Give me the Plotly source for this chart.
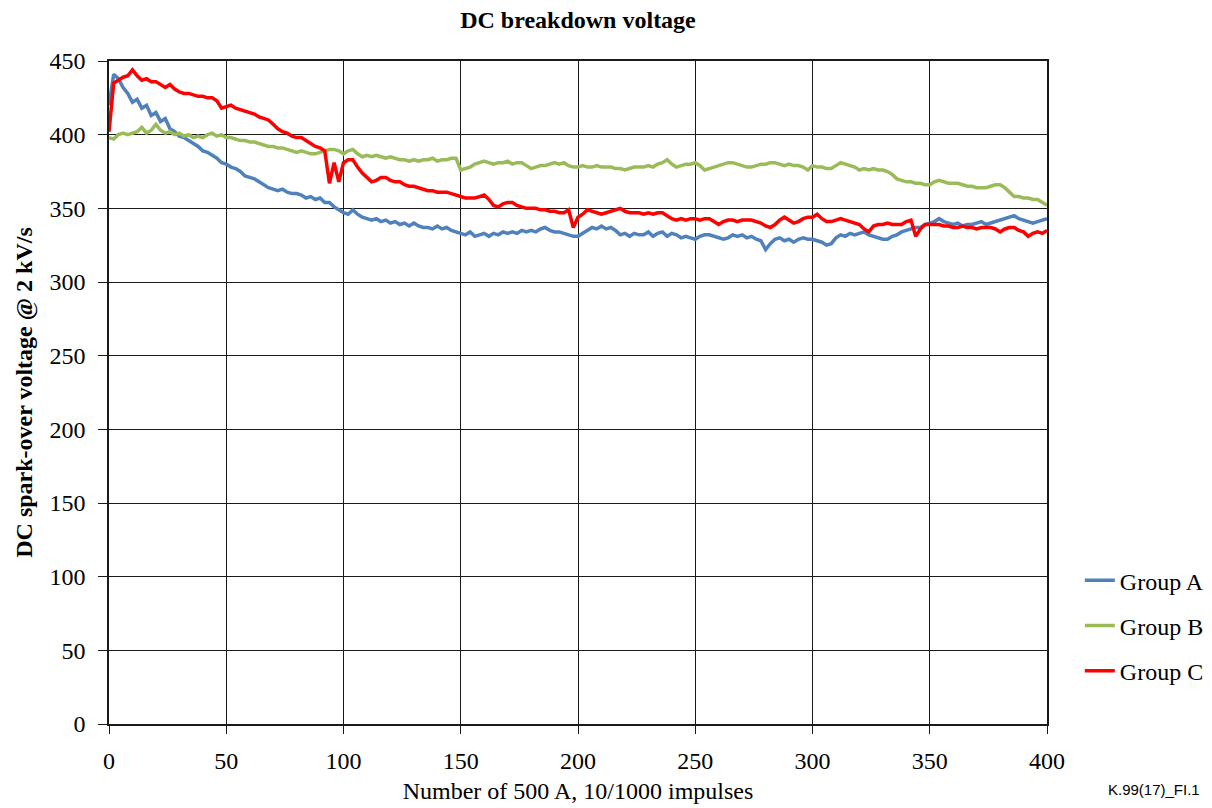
import plotly.graph_objects as go

impulses = list(range(0, 401, 2))

group_a = [420, 441, 438, 432, 428, 422, 424, 418, 420, 413,
           415, 409, 411, 404, 402, 399, 398, 396, 394, 392,
           389, 388, 386, 384, 381, 380, 378, 377, 375, 372,
           371, 370, 368, 366, 364, 363, 362, 363, 361, 360,
           360, 359, 357, 358, 356, 357, 354, 354, 351, 349,
           347, 346, 349, 346, 344, 343, 342, 343, 341, 342,
           340, 341, 339, 340, 338, 340, 338, 337, 337, 336,
           338, 336, 337, 335, 334, 333, 332, 334, 331, 332,
           333, 331, 333, 332, 334, 333, 334, 333, 335, 334,
           335, 334, 336, 337, 335, 334, 334, 333, 332, 331,
           331, 333, 335, 337, 336, 338, 336, 337, 335, 332,
           333, 331, 333, 332, 332, 334, 331, 333, 334, 331,
           333, 332, 330, 331, 330, 329, 331, 332, 332, 331,
           330, 329, 330, 332, 331, 332, 330, 331, 329, 328,
           322, 326, 329, 330, 328, 329, 327, 329, 330, 329,
           329, 328, 327, 325, 326, 330, 332, 331, 333, 332,
           333, 334, 332, 331, 330, 329, 329, 331, 332, 334,
           335, 336, 337, 337, 339, 340, 341, 343, 341, 340,
           339, 340, 338, 339, 339, 340, 341, 339, 340, 341,
           342, 343, 344, 345, 343, 342, 341, 340, 341, 342,
           343]

group_b = [398, 397, 400, 401, 400, 401, 402, 405, 401, 403,
           407, 403, 401, 402, 400, 401, 399, 400, 398, 399,
           398, 400, 401, 399, 400, 398, 398, 397, 396, 396,
           395, 395, 394, 393, 392, 392, 391, 391, 390, 389,
           388, 389, 388, 387, 387, 388, 389, 390, 390, 389,
           387, 389, 390, 387, 385, 386, 385, 386, 385, 384,
           385, 384, 383, 383, 382, 383, 382, 383, 383, 384,
           382, 383, 383, 384, 384, 376, 377, 378, 380, 381,
           382, 381, 380, 381, 381, 382, 380, 381, 381, 379,
           377, 378, 379, 379, 380, 381, 380, 381, 379, 378,
           378, 379, 378, 378, 379, 378, 378, 378, 377, 377,
           376, 377, 378, 378, 378, 379, 378, 380, 381, 383,
           380, 378, 379, 380, 380, 381, 379, 376, 377, 378,
           379, 380, 381, 381, 380, 379, 378, 378, 379, 380,
           380, 381, 381, 380, 379, 380, 379, 379, 378, 376,
           379, 378, 378, 377, 377, 379, 381, 380, 379, 378,
           376, 377, 376, 377, 376, 376, 375, 373, 370, 369,
           368, 368, 367, 367, 366, 366, 368, 369, 368, 367,
           367, 367, 366, 365, 365, 364, 364, 364, 365, 366,
           366, 364, 361, 358, 358, 357, 357, 356, 356, 354,
           352]

group_c = [402, 435, 437, 439, 440, 444, 440, 437, 438, 436,
           436, 434, 432, 434, 431, 429, 428, 428, 427, 426,
           426, 425, 425, 423, 418, 419, 420, 418, 417, 416,
           415, 414, 412, 411, 410, 407, 404, 402, 401, 399,
           398, 398, 396, 394, 392, 391, 389, 367, 381, 368,
           381, 383, 383, 378, 374, 371, 368, 369, 371, 371,
           369, 368, 368, 366, 365, 365, 364, 363, 362, 362,
           361, 361, 361, 360, 359, 358, 357, 357, 357, 358,
           359, 356, 352, 351, 353, 354, 354, 352, 351, 350,
           350, 350, 349, 349, 348, 348, 347, 347, 349, 337,
           344, 346, 349, 348, 347, 346, 347, 348, 349, 350,
           348, 347, 347, 347, 346, 347, 346, 347, 347, 345,
           343, 342, 343, 342, 343, 343, 342, 343, 343, 341,
           339, 341, 342, 342, 341, 342, 342, 342, 341, 340,
           338, 337, 339, 342, 344, 342, 340, 341, 343, 344,
           344, 346, 343, 341, 341, 342, 343, 342, 341, 340,
           339, 336, 334, 338, 339, 339, 340, 339, 339, 339,
           341, 342, 331, 336, 339, 339, 339, 339, 338, 338,
           337, 337, 338, 337, 337, 336, 337, 337, 337, 336,
           334, 336, 337, 337, 335, 334, 331, 333, 334, 333,
           335]

series_names = ["Group A", "Group B", "Group C"]
series_values = [group_a, group_b, group_c]
series_colors = ["#4F81BD", "#9BBB59", "#FF0000"]

x_ticks = [0, 50, 100, 150, 200, 250, 300, 350, 400]
y_ticks = [0, 50, 100, 150, 200, 250, 300, 350, 400, 450]

fig = go.Figure()
for name, vals, col in zip(series_names, series_values, series_colors):
    fig.add_trace(go.Scatter(
        x=impulses, y=vals, mode="lines", name=name, legendgroup=name,
        line=dict(color=col, width=3.5)))

serif = "Liberation Serif, Times New Roman, serif"
fs = 24

fig.update_layout(
    width=1212, height=808,
    margin=dict(l=109, r=165, t=61, b=84, autoexpand=False),
    paper_bgcolor="white", plot_bgcolor="white",
    font=dict(family=serif, size=fs, color="black"),
    title=dict(text="<b>DC breakdown voltage</b>", x=0.5, xref="paper",
               xanchor="center", y=(808 - 20) / 808, yref="container", yanchor="middle",
               font=dict(family=serif, size=fs, color="black")),
    showlegend=True,
    legend=dict(x=1.035, xanchor="left", y=0.250, yanchor="top",
                font=dict(family=serif, size=fs, color="black"),
                tracegroupgap=11, bgcolor="rgba(0,0,0,0)"),
)

fig.update_xaxes(
    range=[0, 400], tickvals=x_ticks, ticktext=[str(v) for v in x_ticks],
    showgrid=True, gridcolor="#1a1a1a", gridwidth=1.3,
    showline=True, linecolor="#1a1a1a", linewidth=1.5, mirror=True,
    ticks="outside", ticklen=8, tickcolor="#1a1a1a", tickwidth=1.3,
    ticklabelstandoff=6, automargin=False,
    zeroline=False,
    title=dict(text="Number of 500 A, 10/1000 impulses", standoff=10,
               font=dict(family=serif, size=fs)),
    tickfont=dict(family=serif, size=fs),
)
fig.update_yaxes(
    range=[0, 450], tickvals=y_ticks, ticktext=[str(v) for v in y_ticks],
    showgrid=True, gridcolor="#1a1a1a", gridwidth=1.3,
    showline=True, linecolor="#1a1a1a", linewidth=1.5, mirror=True,
    ticks="outside", ticklen=9, tickcolor="#1a1a1a", tickwidth=1.3,
    ticklabelstandoff=8, automargin=False,
    zeroline=False,
    title=dict(text="<b>DC spark-over voltage @ 2 kV/s</b>", standoff=10,
               font=dict(family=serif, size=fs)),
    tickfont=dict(family=serif, size=fs),
)

fig.add_annotation(text="K.99(17)_FI.1", xref="paper", yref="paper",
                   x=(1202 - 109) / 938, y=(724 - 789) / 663,
                   xanchor="right", yanchor="middle", showarrow=False,
                   font=dict(family="Liberation Sans, Arial, sans-serif", size=15, color="black"))

fig.write_html("out.html")
